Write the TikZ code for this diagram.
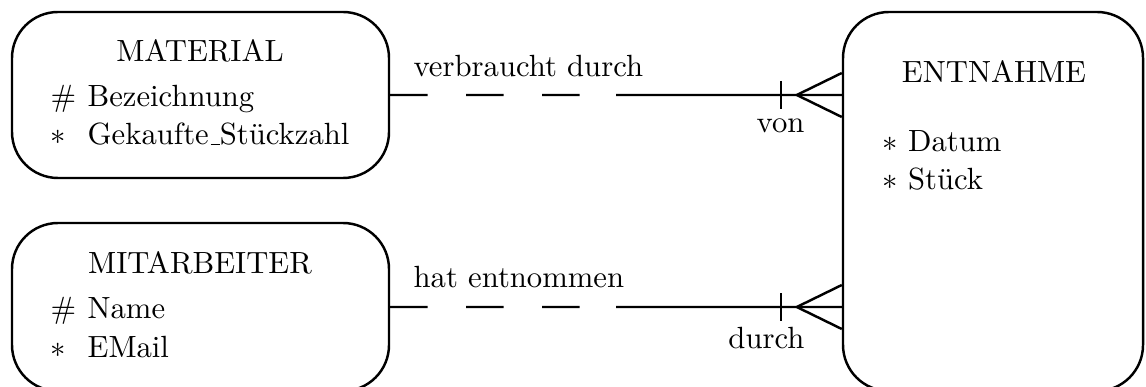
\documentclass[tikz,border=0pt]{standalone}
\usetikzlibrary{calc}
\newcommand{\myus}{\leavevmode\kern.06em\vbox{\hrule width.3em}}
\begin{document}
\begin{tikzpicture}[x=0.326pt,y=-0.326pt,
  entity/.style={draw,line width=0.8pt,rounded corners=15pt,inner sep=0pt},
  rel/.style={line width=0.8pt},
  optional/.style={line width=0.8pt,dash pattern=on 12.2pt off 12.55pt},
  lbl/.style={inner sep=0pt,font=\normalsize}]
\useasboundingbox (0,0) rectangle (1146,387);
% entity boxes
\node[entity,minimum width=377*0.326pt,minimum height=166*0.326pt] (mat) at (200.5,95) {};
\node[entity,minimum width=377*0.326pt,minimum height=168*0.326pt] (mit) at (200.5,307) {};
\node[entity,minimum width=300*0.326pt,minimum height=379*0.326pt] (ent) at (993,201.5) {};
% texts
\node[lbl,anchor=base] (matT) at (200,62) {MATERIAL};
\node[lbl,anchor=base west] (matA1s) at (50,107) {\#};
\node[lbl,anchor=base west] (matA1) at (87,107) {Bezeichnung};
\node[lbl,anchor=base west] (matA2s) at (50,145) {$*$};
\node[lbl,anchor=base west] (matA2) at (87,145) {Gekaufte\myus Stückzahl};
\node[lbl,anchor=base] (mitT) at (200,273) {MITARBEITER};
\node[lbl,anchor=base west] (mitA1s) at (50,318) {\#};
\node[lbl,anchor=base west] (mitA1) at (87,318) {Name};
\node[lbl,anchor=base west] (mitA2s) at (50,357) {$*$};
\node[lbl,anchor=base west] (mitA2) at (87,357) {EMail};
\node[lbl,anchor=base] (entT) at (994,83) {ENTNAHME};
\node[lbl,anchor=base west] (entA1) at (882,152) {$*$ Datum};
\node[lbl,anchor=base west] (entA2) at (882,190) {$*$ Stück};
% relationship 1
\coordinate (r1e) at (mat.east -| ent.west);
\coordinate (r1m) at ($(mat.east)!0.5!(r1e)$);
\draw[optional] (mat.east) -- (r1m);
\draw[rel] (r1m) -- (r1e);
\draw[rel] ($(r1e)+(-61,-14)$) -- ($(r1e)+(-61,14)$);
\draw[rel] ($(r1e)+(0,-22)$) -- ($(r1e)+(-45,0)$) -- ($(r1e)+(0,22)$);
\node[lbl,anchor=base west] (r1l) at (413,77) {verbraucht durch};
\node[lbl,anchor=base east] (r1r) at (805,133) {von};
% relationship 2
\coordinate (r2e) at (mit.east -| ent.west);
\coordinate (r2m) at ($(mit.east)!0.5!(r2e)$);
\draw[optional] (mit.east) -- (r2m);
\draw[rel] (r2m) -- (r2e);
\draw[rel] ($(r2e)+(-61,-14)$) -- ($(r2e)+(-61,14)$);
\draw[rel] ($(r2e)+(0,-22)$) -- ($(r2e)+(-45,0)$) -- ($(r2e)+(0,22)$);
\node[lbl,anchor=base west] (r2l) at (413,287) {hat entnommen};
\node[lbl,anchor=base east] (r2r) at (805,348) {durch};
\end{tikzpicture}
\end{document}
